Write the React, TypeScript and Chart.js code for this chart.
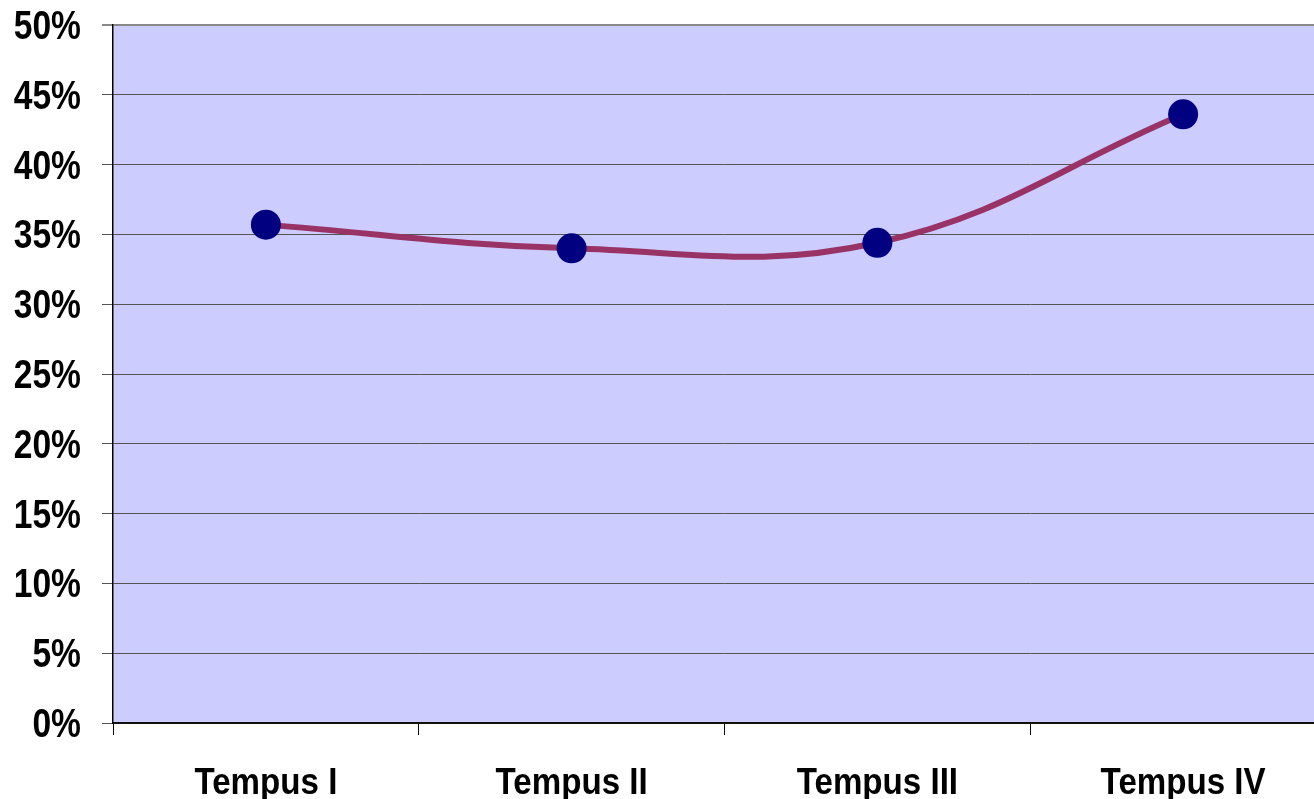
import React, { useEffect, useRef } from "react";
import { Chart, registerables } from "chart.js";

Chart.register(...registerables);

const categories = ["Tempus I", "Tempus II", "Tempus III", "Tempus IV"];
const shareValues = [35.7, 34.0, 34.4, 43.6];
const yMin = 0;
const yMax = 50;
const yStep = 5;

const FONT = "'Liberation Sans', Arial, sans-serif";

function condense(scale: any, k: number, dy: number) {
  const orig = scale.drawLabels.bind(scale);
  scale.drawLabels = (area: any) => {
    const ctx = scale.ctx;
    const origFill = ctx.fillText;
    ctx.fillText = function (text: string, x: number, y: number, mw?: number) {
      ctx.save();
      ctx.translate(x, y + dy);
      ctx.scale(k, 1);
      if (mw === undefined) origFill.call(ctx, text, 0, 0);
      else origFill.call(ctx, text, 0, 0, mw / k);
      ctx.restore();
    };
    try {
      orig(area);
    } finally {
      ctx.fillText = origFill;
    }
  };
}

export default function App() {
  const ref = useRef<HTMLCanvasElement>(null);

  useEffect(() => {
    document.body.style.margin = "0";
    document.body.style.overflow = "hidden";
    const plotBg = {
      id: "plotBg",
      beforeDraw(chart: any) {
        const { ctx, chartArea: a } = chart;
        ctx.save();
        ctx.fillStyle = "#CCCCFF";
        ctx.fillRect(a.left, a.top, a.right - a.left, a.bottom - a.top);
        ctx.restore();
      },
    };
    const labelStyle = {
      id: "labelStyle",
      afterLayout(chart: any) {
        const ys = chart.scales.y;
        const xs = chart.scales.x;
        if (!ys.__wrapped) {
          condense(ys, 0.84, 3);
          ys.__wrapped = true;
        }
        if (!xs.__wrapped) {
          condense(xs, 0.92, 0);
          xs.__wrapped = true;
        }
      },
    };
    const chart = new Chart(ref.current as HTMLCanvasElement, {
      type: "line",
      data: {
        labels: categories,
        datasets: [
          {
            data: shareValues,
            borderColor: "#993366",
            borderWidth: 6,
            tension: 0.4,
            pointRadius: 15,
            pointHoverRadius: 15,
            pointBackgroundColor: "#000080",
            pointBorderColor: "#000080",
            pointBorderWidth: 0,
          },
        ],
      },
      options: {
        responsive: false,
        animation: false,
        devicePixelRatio: 1,
        layout: { padding: { top: 25, right: 8, left: 0, bottom: 0 } },
        plugins: { legend: { display: false }, tooltip: { enabled: false } },
        scales: {
          x: {
            offset: true,
            afterFit(scale: any) {
              scale.height = 76;
              scale.paddingLeft = 0;
              scale.paddingRight = 0;
            },
            grid: {
              offset: true,
              drawOnChartArea: false,
              drawTicks: true,
              tickLength: 12,
              color: "#000000",
            },
            border: { display: true, color: "#111111", width: 2 },
            ticks: {
              color: "#000000",
              padding: 27,
              maxRotation: 0,
              font: { family: FONT, weight: "bold", size: 36 },
            },
          },
          y: {
            min: yMin,
            max: yMax,
            afterFit(scale: any) {
              scale.width = 113;
              scale.paddingTop = 0;
              scale.paddingBottom = 0;
            },
            grid: {
              tickLength: 11,
              color: (c: any) => (c.tick && c.tick.value === yMax ? "#888888" : "#555555"),
              lineWidth: (c: any) => (c.tick && c.tick.value === yMax ? 2 : 1),
            },
            border: { display: true, color: "#000000", width: 1.5 },
            ticks: {
              stepSize: yStep,
              color: "#000000",
              padding: 21,
              callback: (v: any) => `${v}%`,
              font: { family: FONT, weight: "bold", size: 40 },
            },
          },
        },
      },
      plugins: [plotBg, labelStyle],
    });
    return () => chart.destroy();
  }, []);

  return (
    <div style={{ width: 1314, height: 799, overflow: "hidden", position: "relative", background: "#fff" }}>
      <canvas ref={ref} width={1351} height={799} style={{ display: "block" }} />
    </div>
  );
}
